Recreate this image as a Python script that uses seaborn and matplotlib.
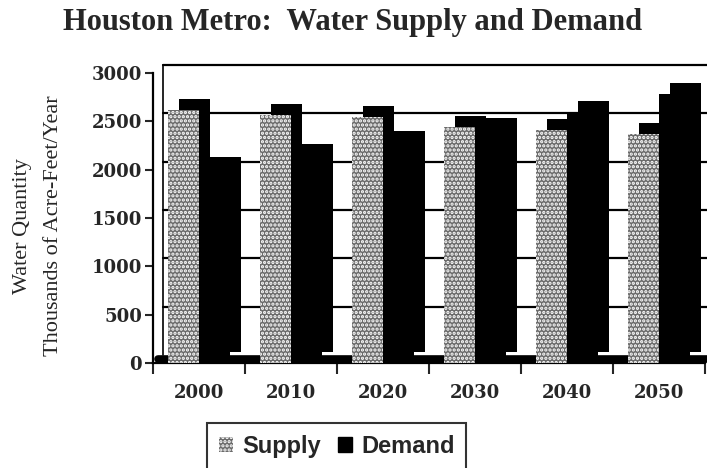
import pandas as pd
import seaborn as sns
import matplotlib.pyplot as plt
import matplotlib.transforms as mtransforms
from matplotlib.patches import Patch

years = ['2000', '2010', '2020', '2030', '2040', '2050']
supply = [2620, 2570, 2550, 2440, 2410, 2370]
demand = [2020, 2150, 2290, 2420, 2600, 2785]
series = ['Supply', 'Demand']
yticks = [0, 500, 1000, 1500, 2000, 2500, 3000]

df = pd.DataFrame({
    'Year': years * 2,
    'Value': supply + demand,
    'Series': ['Supply'] * len(years) + ['Demand'] * len(years),
})

sns.set_style('white')
plt.rcParams['font.family'] = ['Liberation Serif', 'DejaVu Serif']
plt.rcParams['hatch.linewidth'] = 1.6

SPECKLE = '#6a6a6a'

fig = plt.figure(figsize=(7.07, 4.68), dpi=100)
ax = fig.add_axes([153 / 707, 105 / 468, 552 / 707, 290 / 468])


def shift(dx, dy):
    # pixel offset used for the fake 3d depth
    return mtransforms.ScaledTranslation(dx / 100, dy / 100, fig.dpi_scale_trans)


# depth of the columns (black sides / tops)
sns.barplot(data=df, x='Year', y='Value', hue='Series', hue_order=series,
            palette=['black', 'black'], width=0.68, legend=False, ax=ax,
            saturation=1, linewidth=0, zorder=2)
for p in ax.patches:
    p.set_transform(ax.transData + shift(11, 11))
    p.set_clip_on(False)
n_back = len(ax.patches)

# front faces
sns.barplot(data=df, x='Year', y='Value', hue='Series', hue_order=series,
            palette=[SPECKLE, 'black'], width=0.68, legend=False, ax=ax,
            saturation=1, linewidth=0, zorder=3)
for p in ax.patches[n_back:]:
    if tuple(p.get_facecolor()[:3]) != (0.0, 0.0, 0.0):
        p.set_hatch('....')
        p.set_edgecolor('white')
        p.set_linewidth(0)

# back wall gridlines
for v in yticks[1:]:
    ln = ax.axhline(v, color='black', lw=1.6, zorder=0, clip_on=False)
    ln.set_transform(ln.get_transform() + shift(10, 8))
wall = ax.axvline(-0.5, color='black', lw=1.2, zorder=0, clip_on=False)
wall.set_transform(wall.get_transform() + shift(10, 8))
floor = ax.axhline(0, color='black', lw=5.5, zorder=1, clip_on=False)
floor.set_transform(floor.get_transform() + shift(5, 4))

tick_font = {'family': 'DejaVu Serif', 'weight': 'bold', 'size': 13}
ax.set_xlim(-0.5, len(years) - 0.5)
ax.set_ylim(0, 3000)
ax.set_yticks(yticks)
ax.set_yticklabels([str(v) for v in yticks], fontdict=tick_font)
ax.set_xticks([i - 0.5 for i in range(len(years) + 1)])
ax.set_xticklabels([])
ax.set_xticks(range(len(years)), minor=True)
ax.set_xticklabels(years, minor=True, fontdict=tick_font)
ax.tick_params(axis='x', which='major', length=8, width=1.5, direction='out', bottom=True)
ax.tick_params(axis='x', which='minor', length=0, pad=15)
ax.tick_params(axis='y', length=6, width=1.5, direction='out', left=True, pad=2)
ax.set_xlabel('')
ax.set_ylabel('')
for s in ['top', 'right']:
    ax.spines[s].set_visible(False)
for s in ['left', 'bottom']:
    ax.spines[s].set_color('black')
    ax.spines[s].set_linewidth(1.6)
ax.set_facecolor('none')

fig.text(353 / 707, 1 - 30 / 468, 'Houston Metro:  Water Supply and Demand',
         ha='center', va='baseline', fontsize=22, fontweight='bold')
fig.text(23 / 707, 1 - 226 / 468, 'Water Quantity', rotation=90,
         ha='center', va='center', fontsize=16)
fig.text(54 / 707, 1 - 226 / 468, 'Thousands of Acre-Feet/Year', rotation=90,
         ha='center', va='center', fontsize=16)

handles = [Patch(facecolor=SPECKLE, edgecolor='white', hatch='....', linewidth=0),
           Patch(facecolor='black', edgecolor='black')]
leg = fig.legend(handles, series, loc='upper left', ncol=2,
                 bbox_to_anchor=(207 / 707, 1 - 423 / 468),
                 prop={'family': 'Liberation Sans', 'weight': 'bold', 'size': 17},
                 frameon=True, fancybox=False, edgecolor='black',
                 handlelength=0.6, handleheight=0.6, handletextpad=0.4,
                 columnspacing=0.7, borderpad=0.5, borderaxespad=0)
leg.get_frame().set_linewidth(1.5)

fig.savefig('out.png', dpi=100)
